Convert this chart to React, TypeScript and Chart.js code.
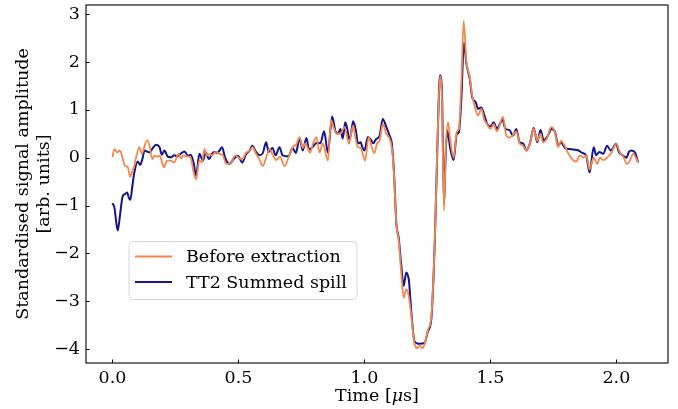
import React, { useEffect, useRef } from 'react';
import { Chart, registerables } from 'chart.js';

Chart.register(...registerables);

// ---- data ----
const seriesLabels = ['Before extraction', 'TT2 Summed spill'];

const beforeTimes = [
  0.0, 0.008, 0.019, 0.028, 0.035, 0.041, 0.05, 0.061, 0.071, 0.078, 0.085, 0.094, 0.107, 0.117, 0.13, 0.138,
  0.147, 0.158, 0.167, 0.177, 0.187, 0.196, 0.204, 0.217, 0.23, 0.245, 0.262, 0.272, 0.28, 0.295, 0.31, 0.323,
  0.332, 0.345, 0.355, 0.365, 0.375, 0.385, 0.395, 0.41, 0.425, 0.438, 0.45, 0.458, 0.47, 0.48, 0.49, 0.5,
  0.515, 0.53, 0.545, 0.557, 0.568, 0.58, 0.597, 0.61, 0.623, 0.637, 0.65, 0.665, 0.683, 0.7, 0.716, 0.73,
  0.743, 0.755, 0.765, 0.775, 0.785, 0.795, 0.809, 0.822, 0.835, 0.855, 0.868, 0.88, 0.89, 0.905, 0.921, 0.939,
  0.955, 0.965, 0.974, 0.985, 1.003, 1.017, 1.03, 1.04, 1.05, 1.06, 1.073, 1.087, 1.1, 1.109, 1.117, 1.127,
  1.136, 1.146, 1.156, 1.166, 1.172, 1.177, 1.186, 1.199, 1.21, 1.219, 1.23, 1.239, 1.252, 1.266, 1.279, 1.29,
  1.3, 1.308, 1.316, 1.323, 1.332, 1.341, 1.354, 1.367, 1.375, 1.385, 1.394, 1.405, 1.418, 1.428, 1.442, 1.451,
  1.464, 1.475, 1.487, 1.5, 1.513, 1.526, 1.55, 1.563, 1.575, 1.59, 1.603, 1.616, 1.63, 1.643, 1.657, 1.672,
  1.686, 1.699, 1.709, 1.722, 1.742, 1.755, 1.769, 1.78, 1.795, 1.81, 1.83, 1.841, 1.855, 1.868, 1.88, 1.894,
  1.91, 1.924, 1.935, 1.948, 1.963, 1.98, 2.0, 2.015, 2.03, 2.04, 2.05, 2.067, 2.086,
];
const beforeValues = [
  0.01, 0.18, 0.11, 0.15, 0.1, -0.03, -0.17, -0.2, -0.4, -0.3, -0.2, 0.01, 0.22, 0.08, 0.29, 0.36,
  0.25, -0.03, 0.04, 0.02, 0.04, -0.08, -0.2, -0.06, -0.06, -0.1, 0.08, -0.02, 0.05, 0.03, 0.0, -0.32,
  -0.45, -0.06, -0.1, 0.18, 0.05, 0.08, 0.05, 0.12, 0.08, 0.05, -0.12, -0.13, -0.12, 0.0, 0.05, 0.0,
  -0.03, 0.1, 0.15, 0.22, 0.1, 0.0, -0.17, 0.0, 0.18, 0.05, -0.05, 0.02, -0.18, 0.02, 0.22, 0.28,
  0.43, 0.2, 0.3, 0.2, 0.1, 0.28, 0.43, 0.11, 0.3, -0.06, 0.78, 0.6, 0.5, 0.5, 0.64, 0.29,
  0.67, 0.4, 0.22, 0.2, -0.06, 0.43, 0.2, 0.1, 0.3, 0.35, 0.7, 0.5, 0.4, 0.2, -0.3, -1.4,
  -1.72, -2.4, -2.93, -2.75, -2.8, -2.93, -3.3, -3.9, -3.98, -3.92, -3.98, -3.9, -3.6, -3.3, -1.8, 0.3,
  1.7, 1.2, -1.11, 0.2, 0.74, 0.35, 0.0, 0.55, 0.6, 1.6, 2.86, 2.0, 1.7, 1.3, 1.0, 0.88,
  1.02, 0.8, 0.7, 0.6, 0.7, 0.55, 0.85, 0.46, 0.42, 0.48, 0.55, 0.3, 0.25, 0.15, 0.3, 0.6,
  0.35, 0.5, 0.32, 0.38, 0.64, 0.55, 0.22, 0.35, 0.25, 0.08, -0.06, -0.08, 0.05, 0.0, 0.05, -0.25,
  0.0, -0.13, 0.0, -0.05, 0.0, 0.1, 0.29, 0.1, 0.0, -0.13, -0.1, 0.08, -0.1,
];

const summedTimes = [
  0.0, 0.008, 0.015, 0.021, 0.03, 0.041, 0.05, 0.058, 0.066, 0.071, 0.08, 0.087, 0.1, 0.11, 0.12, 0.127,
  0.137, 0.147, 0.16, 0.173, 0.187, 0.196, 0.206, 0.22, 0.233, 0.245, 0.258, 0.27, 0.286, 0.3, 0.31, 0.322,
  0.332, 0.345, 0.359, 0.37, 0.383, 0.395, 0.405, 0.415, 0.425, 0.435, 0.447, 0.456, 0.465, 0.475, 0.485, 0.498,
  0.515, 0.53, 0.545, 0.555, 0.57, 0.585, 0.597, 0.61, 0.62, 0.635, 0.648, 0.663, 0.675, 0.69, 0.7, 0.715,
  0.728, 0.743, 0.755, 0.77, 0.78, 0.79, 0.8, 0.812, 0.825, 0.84, 0.855, 0.872, 0.885, 0.895, 0.905, 0.914,
  0.924, 0.932, 0.939, 0.947, 0.955, 0.965, 0.975, 0.985, 0.993, 1.0, 1.014, 1.025, 1.035, 1.047, 1.06, 1.073,
  1.087, 1.1, 1.109, 1.117, 1.127, 1.136, 1.146, 1.156, 1.166, 1.172, 1.177, 1.186, 1.199, 1.219, 1.239, 1.252,
  1.266, 1.279, 1.29, 1.3, 1.308, 1.316, 1.322, 1.329, 1.341, 1.354, 1.367, 1.375, 1.385, 1.395, 1.405, 1.418,
  1.428, 1.442, 1.451, 1.464, 1.475, 1.487, 1.5, 1.513, 1.526, 1.537, 1.548, 1.56, 1.575, 1.59, 1.603, 1.616,
  1.63, 1.643, 1.657, 1.672, 1.686, 1.699, 1.712, 1.727, 1.743, 1.756, 1.769, 1.78, 1.797, 1.815, 1.83, 1.85,
  1.865, 1.88, 1.894, 1.91, 1.92, 1.932, 1.948, 1.963, 1.978, 1.999, 2.01, 2.025, 2.04, 2.05, 2.06, 2.075,
  2.086,
];
const summedValues = [
  -0.95, -1.05, -1.35, -1.52, -1.2, -0.8, -0.76, -0.73, -0.85, -0.88, -0.55, -0.31, -0.08, -0.15, 0.0, 0.15,
  0.13, 0.11, 0.2, 0.27, 0.22, 0.06, 0.15, 0.02, 0.01, 0.05, 0.03, 0.08, 0.13, 0.04, 0.06, -0.1,
  -0.38, 0.08, -0.06, 0.11, -0.03, 0.08, 0.12, 0.1, 0.15, 0.22, 0.0, -0.1, -0.13, -0.07, 0.0, 0.04,
  -0.1, 0.07, 0.15, 0.25, 0.12, 0.05, 0.1, 0.32, 0.12, 0.2, 0.05, 0.22, 0.05, 0.03, 0.04, 0.2,
  0.1, 0.41, 0.15, 0.41, 0.17, 0.2, 0.26, 0.31, 0.3, 0.55, 0.11, 0.86, 0.55, 0.5, 0.6, 0.4,
  0.74, 0.6, 0.39, 0.5, 0.76, 0.6, 0.3, 0.32, 0.2, 0.15, 0.43, 0.38, 0.3, 0.39, 0.45, 0.81,
  0.64, 0.46, 0.29, -0.27, -1.39, -1.67, -2.23, -2.68, -2.4, -2.45, -2.58, -3.21, -3.84, -3.89, -3.87, -3.63,
  -3.35, -1.81, 0.29, 1.72, 1.34, -0.97, 0.0, 0.57, 0.18, -0.05, 0.5, 0.53, 1.26, 2.4, 1.96, 1.65,
  1.26, 1.16, 1.02, 1.05, 0.9, 0.71, 0.65, 0.74, 0.6, 0.7, 0.79, 0.6, 0.58, 0.46, 0.6, 0.32,
  0.3, 0.15, 0.3, 0.62, 0.32, 0.58, 0.36, 0.45, 0.6, 0.55, 0.25, 0.32, 0.2, 0.18, 0.17, 0.15,
  0.1, 0.05, -0.31, 0.22, 0.05, 0.12, 0.08, 0.25, 0.15, 0.29, 0.12, 0.05, 0.0, 0.12, 0.15, 0.1,
  -0.1,
];

const xTickValues = [0.0, 0.5, 1.0, 1.5, 2.0];
const yTickValues = [-4, -3, -2, -1, 0, 1, 2, 3];
const xTitleParts = ['Time [', 'μ', 's]'];
const yTitleLines = ['Standardised signal amplitude', '[arb. units]'];

const colors = ['#f5874a', '#14148c'];
const FONT = '"DejaVu Serif", serif';
const FS = 17.5;

const decorPlugin = {
  id: 'decor',
  afterDraw(chart: any) {
    const { ctx, chartArea: a, scales } = chart;
    ctx.save();
    ctx.strokeStyle = '#000';
    ctx.lineWidth = 1.1;
    ctx.strokeRect(a.left, a.top, a.right - a.left, a.bottom - a.top);
    // inward ticks
    ctx.lineWidth = 1;
    const tl = 3.5;
    scales.x.ticks.forEach((t: any) => {
      const px = Math.round(scales.x.getPixelForValue(t.value)) + 0.5;
      ctx.beginPath();
      ctx.moveTo(px, a.bottom);
      ctx.lineTo(px, a.bottom - tl);
      ctx.stroke();
    });
    scales.y.ticks.forEach((t: any) => {
      const py = Math.round(scales.y.getPixelForValue(t.value)) + 0.5;
      ctx.beginPath();
      ctx.moveTo(a.left, py);
      ctx.lineTo(a.left + tl, py);
      ctx.stroke();
    });
    // x title with italic mu
    ctx.fillStyle = '#000';
    ctx.textBaseline = 'middle';
    ctx.textAlign = 'left';
    const fonts = [`${FS}px ${FONT}`, `italic ${FS}px ${FONT}`, `${FS}px ${FONT}`];
    let total = 0;
    const widths = xTitleParts.map((p, i) => {
      ctx.font = fonts[i];
      const w = ctx.measureText(p).width;
      total += w;
      return w;
    });
    let x = (a.left + a.right) / 2 - total / 2;
    xTitleParts.forEach((p, i) => {
      ctx.font = fonts[i];
      ctx.fillText(p, x, 396);
      x += widths[i];
    });
    // y title
    ctx.font = `${FS}px ${FONT}`;
    ctx.textAlign = 'center';
    const cy = (a.top + a.bottom) / 2;
    const xs = [23, 44];
    yTitleLines.forEach((line, i) => {
      ctx.save();
      ctx.translate(xs[i], cy);
      ctx.rotate(-Math.PI / 2);
      ctx.fillText(line, 0, 0);
      ctx.restore();
    });
    // legend
    const bx = 129, by = 241.5, bw = 228, bh = 58;
    ctx.beginPath();
    ctx.roundRect(bx, by, bw, bh, 4);
    ctx.fillStyle = 'rgba(255,255,255,0.8)';
    ctx.fill();
    ctx.strokeStyle = '#d6d6d6';
    ctx.lineWidth = 1;
    ctx.stroke();
    chart.data.datasets.forEach((ds: any, i: number) => {
      const ly = 256.5 + i * 25.5;
      ctx.strokeStyle = ds.borderColor;
      ctx.lineWidth = 1.8;
      ctx.beginPath();
      ctx.moveTo(135, ly);
      ctx.lineTo(172, ly);
      ctx.stroke();
      ctx.fillStyle = '#000';
      ctx.font = `${FS}px ${FONT}`;
      ctx.textAlign = 'left';
      ctx.textBaseline = 'middle';
      ctx.fillText(ds.label, 186, ly + 1);
    });
    ctx.restore();
  },
};

export default function App() {
  const ref = useRef<HTMLCanvasElement>(null);
  useEffect(() => {
    if (!ref.current) return;
    const chart = new Chart(ref.current, {
      type: 'line',
      data: {
        datasets: [
          {
            label: seriesLabels[0],
            data: beforeTimes.map((t, i) => ({ x: t, y: beforeValues[i] })),
            borderColor: colors[0],
            borderWidth: 1.8,
            pointRadius: 0,
            cubicInterpolationMode: 'monotone',
            fill: false,
          },
          {
            label: seriesLabels[1],
            data: summedTimes.map((t, i) => ({ x: t, y: summedValues[i] })),
            borderColor: colors[1],
            borderWidth: 2,
            pointRadius: 0,
            cubicInterpolationMode: 'monotone',
            fill: false,
          },
        ],
      },
      options: {
        responsive: false,
        animation: false,
        events: [],
        layout: { padding: { left: 0, top: 5, right: 10, bottom: 0 } },
        plugins: { legend: { display: false }, tooltip: { enabled: false } },
        scales: {
          x: {
            type: 'linear',
            min: -0.105,
            max: 2.205,
            afterBuildTicks: (s: any) => {
              s.ticks = xTickValues.map((v) => ({ value: v }));
            },
            afterFit: (s: any) => {
              s.height = 46;
              s.paddingLeft = 0;
              s.paddingRight = 0;
            },
            grid: { display: false, drawTicks: false },
            border: { display: false },
            ticks: {
              padding: 5,
              color: '#000',
              font: { family: FONT, size: FS },
              maxRotation: 0,
              callback: (v: any) => Number(v).toFixed(1),
            },
          },
          y: {
            type: 'linear',
            min: -4.29,
            max: 3.19,
            afterBuildTicks: (s: any) => {
              s.ticks = yTickValues.map((v) => ({ value: v }));
            },
            afterFit: (s: any) => {
              s.width = 86;
              s.paddingTop = 0;
              s.paddingBottom = 0;
            },
            grid: { display: false, drawTicks: false },
            border: { display: false },
            ticks: {
              padding: 6,
              color: '#000',
              font: { family: FONT, size: FS },
              callback: (v: any) => (Number(v) < 0 ? '\u2212' + Math.abs(Number(v)) : String(v)),
            },
          },
        },
      },
      plugins: [decorPlugin],
    });
    return () => chart.destroy();
  }, []);
  return (
    <div style={{ position: 'fixed', left: 0, top: 0, width: 678, height: 409, background: '#fff' }}>
      <canvas ref={ref} width={678} height={409} style={{ width: 678, height: 409 }} />
    </div>
  );
}
